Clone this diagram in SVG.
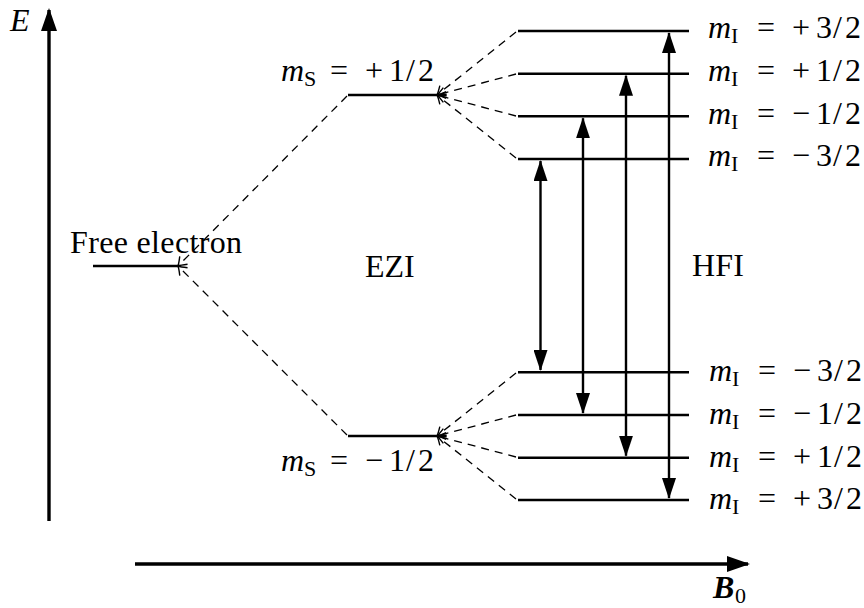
<svg xmlns="http://www.w3.org/2000/svg" width="864" height="608" viewBox="0 0 864 608">
<style>
.t{font-family:"Liberation Serif","Times New Roman",serif;font-size:32px;fill:#000}
.it{font-style:italic}
.sub{font-size:22px}
.lvl{stroke:#000;stroke-width:2.6;fill:none}
.axis{stroke:#000;stroke-width:3.4;fill:none}
.dash{stroke:#000;stroke-width:1.3;fill:none;stroke-dasharray:8 6}
.tr{stroke:#000;stroke-width:2.4;fill:none}
</style>
<defs>
<marker id="ax" markerUnits="userSpaceOnUse" viewBox="0 0 23 16" markerWidth="23" markerHeight="16" refX="21" refY="8" orient="auto">
<path d="M0,0 L23,8 L0,16 z" fill="#000"/>
</marker>
<marker id="tri" markerUnits="userSpaceOnUse" viewBox="0 0 21 14" markerWidth="21" markerHeight="14" refX="20" refY="7" orient="auto-start-reverse">
<path d="M0,0 L21,7 L0,14 z" fill="#000"/>
</marker>
<marker id="to" markerUnits="userSpaceOnUse" viewBox="-10 -7 12 14" markerWidth="12" markerHeight="14" refX="0" refY="0" orient="auto">
<path d="M-8,-5.5 Q-2.5,-1.2 0,0 Q-2.5,1.2 -8,5.5" fill="none" stroke="#000" stroke-width="1.4" stroke-dasharray="none"/>
</marker>
</defs>

<g id="axis-E">
<line class="axis" x1="49" y1="521" x2="49" y2="10" marker-end="url(#ax)"/>
<text class="t it" x="10" y="31">E</text>
</g>
<g id="axis-B0">
<line class="axis" x1="135" y1="564" x2="748" y2="564" marker-end="url(#ax)"/>
<text class="t" y="598"><tspan x="713" font-weight="bold" font-style="italic">B</tspan><tspan class="sub" x="735" dy="5">0</tspan></text>
</g>

<g id="free-electron">
<line class="lvl" x1="93" y1="266" x2="178" y2="266"/>
<text class="t" x="70" y="253" textLength="172" lengthAdjust="spacing">Free electron</text>
</g>

<g id="ms-up">
<line class="lvl" x1="348" y1="95" x2="437" y2="95"/>
<text class="t" y="81"><tspan class="it" x="281">m</tspan><tspan class="sub" x="304" dy="5">S</tspan><tspan x="330" dy="-5">=</tspan><tspan x="365">+</tspan><tspan x="389">1</tspan><tspan x="406">/</tspan><tspan x="418">2</tspan></text>
</g>
<g id="ms-down">
<line class="lvl" x1="348" y1="436" x2="437" y2="436"/>
<text class="t" y="471"><tspan class="it" x="281">m</tspan><tspan class="sub" x="304" dy="5">S</tspan><tspan x="330" dy="-5">=</tspan><tspan x="365">−</tspan><tspan x="389">1</tspan><tspan x="406">/</tspan><tspan x="418">2</tspan></text>
</g>

<g id="EZI"><text class="t" x="365" y="277">EZI</text></g>
<g id="HFI"><text class="t" x="692" y="276" textLength="52" lengthAdjust="spacing">HFI</text></g>

<g id="mI-up-p3">
<line class="lvl" x1="518" y1="31" x2="689" y2="31"/>
<text class="t" y="38"><tspan class="it" x="708">m</tspan><tspan class="sub" x="731" dy="5">I</tspan><tspan x="757" dy="-5">=</tspan><tspan x="792">+</tspan><tspan x="816">3</tspan><tspan x="833">/</tspan><tspan x="845">2</tspan></text>
</g>
<g id="mI-up-p1">
<line class="lvl" x1="518" y1="73.7" x2="689" y2="73.7"/>
<text class="t" y="81"><tspan class="it" x="708">m</tspan><tspan class="sub" x="731" dy="5">I</tspan><tspan x="757" dy="-5">=</tspan><tspan x="792">+</tspan><tspan x="816">1</tspan><tspan x="833">/</tspan><tspan x="845">2</tspan></text>
</g>
<g id="mI-up-m1">
<line class="lvl" x1="518" y1="116.3" x2="689" y2="116.3"/>
<text class="t" y="124"><tspan class="it" x="708">m</tspan><tspan class="sub" x="731" dy="5">I</tspan><tspan x="757" dy="-5">=</tspan><tspan x="792">−</tspan><tspan x="816">1</tspan><tspan x="833">/</tspan><tspan x="845">2</tspan></text>
</g>
<g id="mI-up-m3">
<line class="lvl" x1="518" y1="159" x2="689" y2="159"/>
<text class="t" y="166"><tspan class="it" x="708">m</tspan><tspan class="sub" x="731" dy="5">I</tspan><tspan x="757" dy="-5">=</tspan><tspan x="792">−</tspan><tspan x="816">3</tspan><tspan x="833">/</tspan><tspan x="845">2</tspan></text>
</g>

<g id="mI-dn-m3">
<line class="lvl" x1="518" y1="372.3" x2="689" y2="372.3"/>
<text class="t" y="381"><tspan class="it" x="709">m</tspan><tspan class="sub" x="732" dy="5">I</tspan><tspan x="758" dy="-5">=</tspan><tspan x="793">−</tspan><tspan x="817">3</tspan><tspan x="834">/</tspan><tspan x="846">2</tspan></text>
</g>
<g id="mI-dn-m1">
<line class="lvl" x1="518" y1="415" x2="689" y2="415"/>
<text class="t" y="424"><tspan class="it" x="709">m</tspan><tspan class="sub" x="732" dy="5">I</tspan><tspan x="758" dy="-5">=</tspan><tspan x="793">−</tspan><tspan x="817">1</tspan><tspan x="834">/</tspan><tspan x="846">2</tspan></text>
</g>
<g id="mI-dn-p1">
<line class="lvl" x1="518" y1="457.7" x2="689" y2="457.7"/>
<text class="t" y="467"><tspan class="it" x="709">m</tspan><tspan class="sub" x="732" dy="5">I</tspan><tspan x="758" dy="-5">=</tspan><tspan x="793">+</tspan><tspan x="817">1</tspan><tspan x="834">/</tspan><tspan x="846">2</tspan></text>
</g>
<g id="mI-dn-p3">
<line class="lvl" x1="518" y1="500" x2="689" y2="500"/>
<text class="t" y="509"><tspan class="it" x="709">m</tspan><tspan class="sub" x="732" dy="5">I</tspan><tspan x="758" dy="-5">=</tspan><tspan x="793">+</tspan><tspan x="817">3</tspan><tspan x="834">/</tspan><tspan x="846">2</tspan></text>
</g>

<g id="connectors">
<line class="dash" x1="347" y1="96" x2="178" y2="266" marker-end="url(#to)"/>
<line class="dash" x1="347" y1="435" x2="178" y2="266" marker-end="url(#to)"/>
<line class="dash" x1="516" y1="32" x2="437" y2="95" marker-end="url(#to)"/>
<line class="dash" x1="516" y1="74" x2="437" y2="95" marker-end="url(#to)"/>
<line class="dash" x1="516" y1="116" x2="437" y2="95" marker-end="url(#to)"/>
<line class="dash" x1="516" y1="158" x2="437" y2="95" marker-end="url(#to)"/>
<line class="dash" x1="516" y1="373" x2="437" y2="436" marker-end="url(#to)"/>
<line class="dash" x1="516" y1="415" x2="437" y2="436" marker-end="url(#to)"/>
<line class="dash" x1="516" y1="457" x2="437" y2="436" marker-end="url(#to)"/>
<line class="dash" x1="516" y1="499" x2="437" y2="436" marker-end="url(#to)"/>
<line class="tr" x1="540.5" y1="370" x2="540.5" y2="161" marker-start="url(#tri)" marker-end="url(#tri)"/>
<line class="tr" x1="583" y1="413" x2="583" y2="118.3" marker-start="url(#tri)" marker-end="url(#tri)"/>
<line class="tr" x1="626" y1="455.7" x2="626" y2="75.7" marker-start="url(#tri)" marker-end="url(#tri)"/>
<line class="tr" x1="669" y1="498" x2="669" y2="33" marker-start="url(#tri)" marker-end="url(#tri)"/>
</g>
</svg>
